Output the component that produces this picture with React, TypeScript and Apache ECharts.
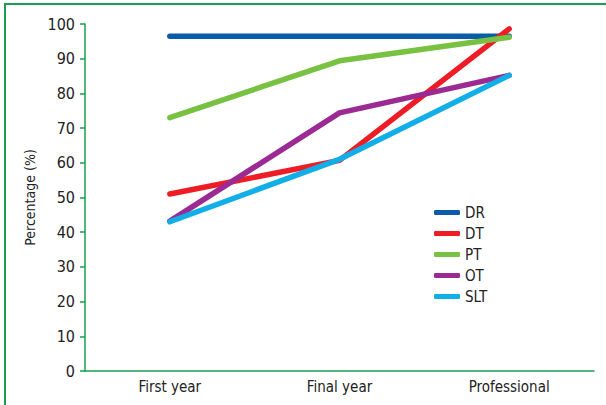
import React, { useEffect, useRef } from "react";
import * as echarts from "echarts";

const categories = ["First year", "Final year", "Professional"];
const seriesNames = ["DR", "DT", "PT", "OT", "SLT"];
const drValues = [96.5, 96.5, 96.5];
const dtValues = [51, 60.7, 98.6];
const ptValues = [73, 89.4, 96.2];
const otValues = [43.2, 74.4, 85.2];
const sltValues = [43, 61, 85.2];
const colors = ["#0a5ca8", "#ee1c25", "#78c143", "#9b2a93", "#12aee8"];

export default function App() {
  const ref = useRef<HTMLDivElement>(null);
  useEffect(() => {
    const chart = echarts.init(ref.current!, null, { renderer: "svg" });
    const data = [drValues, dtValues, ptValues, otValues, sltValues];
    const font = "'Liberation Sans Narrow', 'DejaVu Sans Condensed', 'Liberation Sans', Arial, sans-serif";
    chart.setOption({
      animation: false,
      backgroundColor: "#fff",
      textStyle: { fontFamily: font },
      graphic: [
        {
          type: "rect",
          shape: { x: 5, y: 4, width: 640, height: 440 },
          style: { fill: "none", stroke: "#1a9e4f", lineWidth: 2 },
          silent: true,
        },
      ],
      grid: { left: 85, right: 12, top: 24, bottom: 34 },
      legend: {
        orient: "vertical",
        left: 429,
        top: 200,
        itemWidth: 26,
        itemHeight: 5,
        itemGap: 6,
        icon: "roundRect",
        textStyle: { fontFamily: font, fontSize: 15, color: "#222" },
        data: seriesNames,
      },
      xAxis: {
        type: "category",
        data: categories,
        boundaryGap: true,
        axisLine: { lineStyle: { color: "#1a9e4f", width: 1.5 } },
        axisTick: { alignWithLabel: true, length: 5, lineStyle: { color: "#1a9e4f", width: 1.5 } },
        axisLabel: { fontFamily: font, fontSize: 15, color: "#222", margin: 8 },
      },
      yAxis: {
        type: "value",
        min: 0,
        max: 100,
        interval: 10,
        name: "Percentage (%)",
        nameLocation: "middle",
        nameGap: 42,
        nameTextStyle: { fontFamily: font, fontSize: 14, color: "#222" },
        splitLine: { show: false },
        axisLine: { show: true, lineStyle: { color: "#1a9e4f", width: 1.5 } },
        axisTick: { show: true, length: 5, lineStyle: { color: "#1a9e4f", width: 1.5 } },
        axisLabel: { fontFamily: font, fontSize: 16, color: "#222", margin: 10 },
      },
      series: seriesNames.map((n, i) => ({
        name: n,
        type: "line",
        data: data[i],
        symbol: "none",
        lineStyle: { color: colors[i], width: 5.5, cap: "round", join: "round" },
        itemStyle: { color: colors[i] },
      })),
    });
    return () => chart.dispose();
  }, []);
  return (
    <div
      ref={ref}
      style={{ position: "fixed", left: 0, top: 0, width: 606, height: 405 }}
    />
  );
}
